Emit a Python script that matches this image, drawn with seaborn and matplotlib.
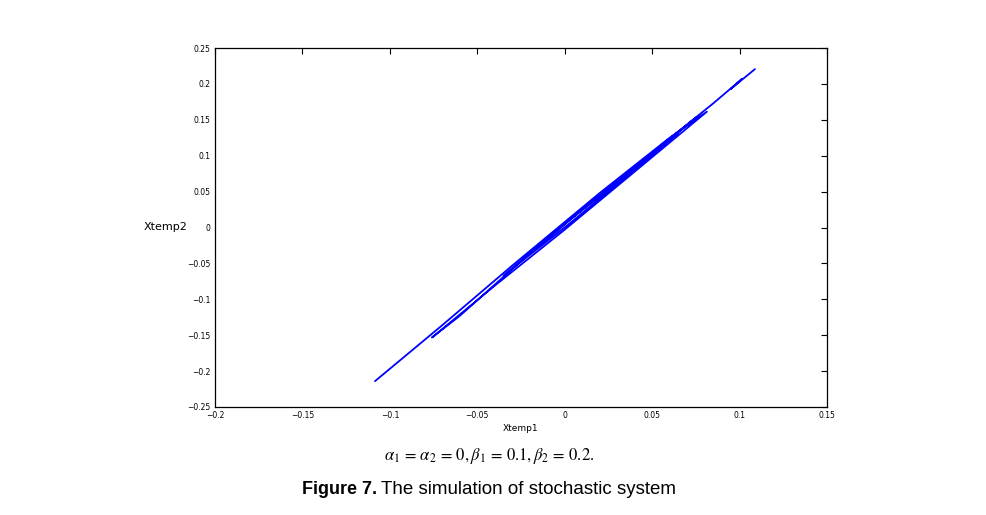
import matplotlib
matplotlib.use("Agg")
import matplotlib.pyplot as plt
import seaborn as sns
import pandas as pd

# Trajectory of the stochastic system
xtemp1 = [-0.1085, -0.0700, -0.0300, 0.0200, 0.0600, 0.0813, 0.0500, 0.0000,
          -0.0400, -0.0759, -0.0600, -0.0200, 0.0250, 0.0650, 0.0450, 0.0050,
          -0.0350, 0.0000, 0.0400, 0.0750, 0.0550, 0.0850, 0.1013, 0.0950, 0.1088]
xtemp2 = [-0.2140, -0.1360, -0.0530, 0.0480, 0.1250, 0.1613, 0.0980, -0.0030,
          -0.0810, -0.1532, -0.1230, -0.0360, 0.0550, 0.1320, 0.0910, 0.0100,
          -0.0670, 0.0050, 0.0820, 0.1530, 0.1140, 0.1730, 0.2068, 0.1930, 0.2206]
xticks = [-0.2, -0.15, -0.1, -0.05, 0, 0.05, 0.1, 0.15]
xticklabels = ["\u22120.2", "\u22120.15", "\u22120.1", "\u22120.05", "0", "0.05", "0.1", "0.15"]
yticks = [-0.25, -0.2, -0.15, -0.1, -0.05, 0, 0.05, 0.1, 0.15, 0.2, 0.25]
yticklabels = ["\u22120.25", "\u22120.2", "\u22120.15", "\u22120.1", "\u22120.05", "0",
               "0.05", "0.1", "0.15", "0.2", "0.25"]

df = pd.DataFrame({"Xtemp1": xtemp1, "Xtemp2": xtemp2})

sns.set_style("white")
plt.rcParams['font.family'] = ['DejaVu Sans']
plt.rcParams['text.color'] = 'black'
plt.rcParams['axes.labelcolor'] = 'black'

fig = plt.figure(figsize=(9.87, 5.15), dpi=100)
ax = fig.add_axes([215/987, 1-407/515, (827-215)/987, (407-48)/515])

sns.lineplot(data=df, x="Xtemp1", y="Xtemp2", sort=False, estimator=None,
             color="#0000ff", linewidth=1.3, ax=ax)

ax.set_xlim(-0.2, 0.15)
ax.set_ylim(-0.25, 0.25)
ax.set_xticks(xticks)
ax.set_xticklabels(xticklabels)
ax.set_yticks(yticks)
ax.set_yticklabels(yticklabels)
ax.tick_params(direction="in", length=4, width=0.8, labelsize=5.5,
               top=True, right=True, colors="black", pad=3)
for s in ax.spines.values():
    s.set_linewidth(0.9)
    s.set_color("black")

ax.set_xlabel("Xtemp1", fontsize=6.5, labelpad=3)
ax.set_ylabel("Xtemp2", fontsize=8, rotation=0, labelpad=15.5, va="center")

fig.text(489/987, 1-456/515,
         r"$\alpha_1\,=\,\alpha_2\,=\,0,\beta_1\,=\,0.1,\beta_2\,=\,0.2.$",
         ha="center", va="center", fontsize=12, math_fontfamily="stix")
fig.text(377/987, 1-489/515, "Figure 7.", ha="right", va="center",
         fontsize=13, fontweight="bold", family="Liberation Sans")
fig.text(381/987, 1-489/515, "The simulation of stochastic system", ha="left",
         va="center", fontsize=13.5, family="Liberation Sans")

fig.savefig("out.png", dpi=100, facecolor="white")
